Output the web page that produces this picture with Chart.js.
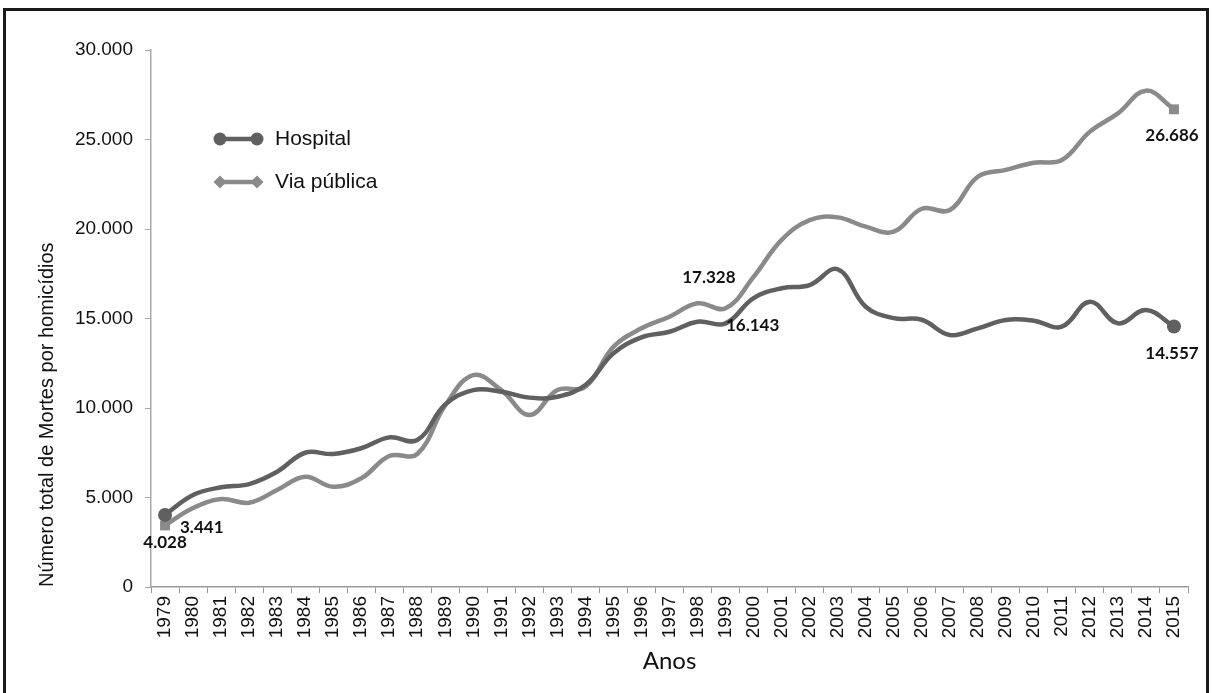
<!DOCTYPE html>
<html>
<head>
<meta charset="utf-8">
<script src="https://cdn.jsdelivr.net/npm/chart.js@4.4.1/dist/chart.umd.min.js"></script>
<style>
  html, body { margin: 0; padding: 0; background: #fff; width: 1212px; height: 693px; overflow: hidden; }
  #wrap { position: absolute; left: 0; top: 0; width: 1212px; height: 693px; }
  #frame { position: absolute; left: 3px; top: 8px; width: 1200px; height: 700px; border: 3px solid #1a1a1a; box-sizing: content-box; pointer-events: none; }
</style>
</head>
<body>
<div id="wrap"><canvas id="c" width="1212" height="693"></canvas></div>
<div id="frame"></div>
<script>
const years = ["1979","1980","1981","1982","1983","1984","1985","1986","1987","1988","1989","1990","1991","1992","1993","1994","1995","1996","1997","1998","1999","2000","2001","2002","2003","2004","2005","2006","2007","2008","2009","2010","2011","2012","2013","2014","2015"];
const hospital = [4028,5140,5570,5750,6440,7500,7430,7750,8360,8210,10200,11000,10910,10580,10630,11280,13050,13950,14260,14820,14730,16143,16690,16870,17750,15660,15020,14930,14080,14450,14920,14880,14540,15940,14730,15470,14557];
const viaPublica = [3441,4410,4910,4710,5420,6160,5600,6070,7320,7430,10150,11840,11000,9610,11000,11190,13420,14450,15100,15850,15570,17328,19390,20500,20650,20130,19850,21130,21060,22920,23300,23700,23850,25440,26460,27730,26686];
const seriesNames = ["Hospital", "Via pública"];
const yTicks = [0, 5000, 10000, 15000, 20000, 25000, 30000];
const xTitle = "Anos";
const yTitle = "Número total de Mortes por homicídios";

const NARROW = "'Liberation Sans Narrow', 'Arial Narrow', 'Liberation Sans', sans-serif";
const HOSP_COLOR = "#606060";
const VIA_COLOR = "#8a8a8a";

function fmt(v) {
  return String(Math.round(v)).replace(/\B(?=(\d{3})+(?!\d))/g, ".");
}
function endsOnly(r) {
  return ctx => (ctx.dataIndex === 0 || ctx.dataIndex === years.length - 1) ? r : 0;
}

// which points get value labels, with offsets (dx, dy) and alignment
const valueLabels = [
  { ds: 0, idx: 0, dx: 0, dy: 28, align: "center" },
  { ds: 1, idx: 0, dx: 15, dy: 2, align: "left" },
  { ds: 1, idx: 21, dx: -18, dy: 1, align: "right" },
  { ds: 0, idx: 21, dx: -1, dy: 27, align: "center" },
  { ds: 1, idx: 36, dx: -2, dy: 26, align: "center" },
  { ds: 0, idx: 36, dx: -2, dy: 27, align: "center" }
];

const labelPlugin = {
  id: "valueLabels",
  afterDatasetsDraw(chart) {
    const ctx = chart.ctx;
    ctx.save();
    ctx.font = "bold 17px Lato, 'Open Sans', sans-serif";
    ctx.fillStyle = "#111";
    ctx.textBaseline = "middle";
    valueLabels.forEach(l => {
      const meta = chart.getDatasetMeta(l.ds);
      const pt = meta.data[l.idx];
      const v = chart.data.datasets[l.ds].data[l.idx];
      ctx.textAlign = l.align;
      ctx.fillText(fmt(v), pt.x + l.dx, pt.y + l.dy);
    });
    ctx.restore();
  }
};

const legendPlugin = {
  id: "customLegend",
  afterDraw(chart) {
    const ctx = chart.ctx;
    ctx.save();
    const items = [
      { name: seriesNames[0], color: HOSP_COLOR, y: 139, shape: "circle" },
      { name: seriesNames[1], color: VIA_COLOR, y: 182, shape: "diamond" }
    ];
    items.forEach(it => {
      ctx.strokeStyle = it.color;
      ctx.fillStyle = it.color;
      ctx.lineWidth = 4.5;
      ctx.beginPath();
      ctx.moveTo(220, it.y);
      ctx.lineTo(257, it.y);
      ctx.stroke();
      [220, 257].forEach(x => {
        ctx.beginPath();
        if (it.shape === "circle") {
          ctx.arc(x, it.y, 6.5, 0, Math.PI * 2);
        } else {
          ctx.moveTo(x, it.y - 6.5);
          ctx.lineTo(x + 6.5, it.y);
          ctx.lineTo(x, it.y + 6.5);
          ctx.lineTo(x - 6.5, it.y);
          ctx.closePath();
        }
        ctx.fill();
      });
      ctx.fillStyle = "#111";
      ctx.font = "21px " + NARROW;
      ctx.textAlign = "left";
      ctx.textBaseline = "middle";
      ctx.fillText(it.name, 275, it.y);
    });
    ctx.restore();
  }
};

new Chart(document.getElementById("c"), {
  type: "line",
  data: {
    labels: years,
    datasets: [
      {
        label: seriesNames[0],
        data: hospital,
        borderColor: HOSP_COLOR,
        backgroundColor: HOSP_COLOR,
        borderWidth: 4.5,
        tension: 0.4,
        pointStyle: "circle",
        pointRadius: endsOnly(7),
        pointHoverRadius: 0,
        pointBorderWidth: 0
      },
      {
        label: seriesNames[1],
        data: viaPublica,
        borderColor: VIA_COLOR,
        backgroundColor: VIA_COLOR,
        borderWidth: 4.5,
        tension: 0.4,
        pointStyle: "rect",
        pointRadius: endsOnly(7),
        pointHoverRadius: 0,
        pointBorderWidth: 0
      }
    ]
  },
  options: {
    responsive: false,
    animation: false,
    events: [],
    layout: { padding: { left: 31, right: 24, top: 50, bottom: 13 } },
    plugins: {
      legend: { display: false },
      tooltip: { enabled: false }
    },
    scales: {
      x: {
        type: "category",
        offset: true,
        afterFit: s => { s.height = 93; },
        grid: { display: true, offset: true, drawOnChartArea: false, drawTicks: true, tickLength: 6, color: "#999" },
        border: { display: true, color: "#999", width: 1.5 },
        ticks: {
          autoSkip: false, maxRotation: 90, minRotation: 90, padding: 3,
          color: "#111", font: { family: NARROW, size: 19 }
        },
        title: {
          display: true, text: xTitle, color: "#111",
          font: { family: "Lato, 'Open Sans', sans-serif", size: 24 },
          padding: { top: 4, bottom: 4 }
        }
      },
      y: {
        min: 0, max: 30000,
        afterFit: s => { s.width = 120; },
        afterBuildTicks: s => { s.ticks = yTicks.map(v => ({ value: v })); },
        grid: { display: true, drawOnChartArea: false, drawTicks: true, tickLength: 6, color: "#aaa" },
        border: { display: true, color: "#aaa", width: 1.5 },
        ticks: {
          padding: 12, color: "#111", font: { family: NARROW, size: 19 },
          callback: v => fmt(v)
        },
        title: {
          display: true, text: yTitle, color: "#111", align: "start",
          font: { family: NARROW, size: 20 },
          padding: { top: 4, bottom: 6 }
        }
      }
    }
  },
  plugins: [labelPlugin, legendPlugin]
});
</script>
</body>
</html>
